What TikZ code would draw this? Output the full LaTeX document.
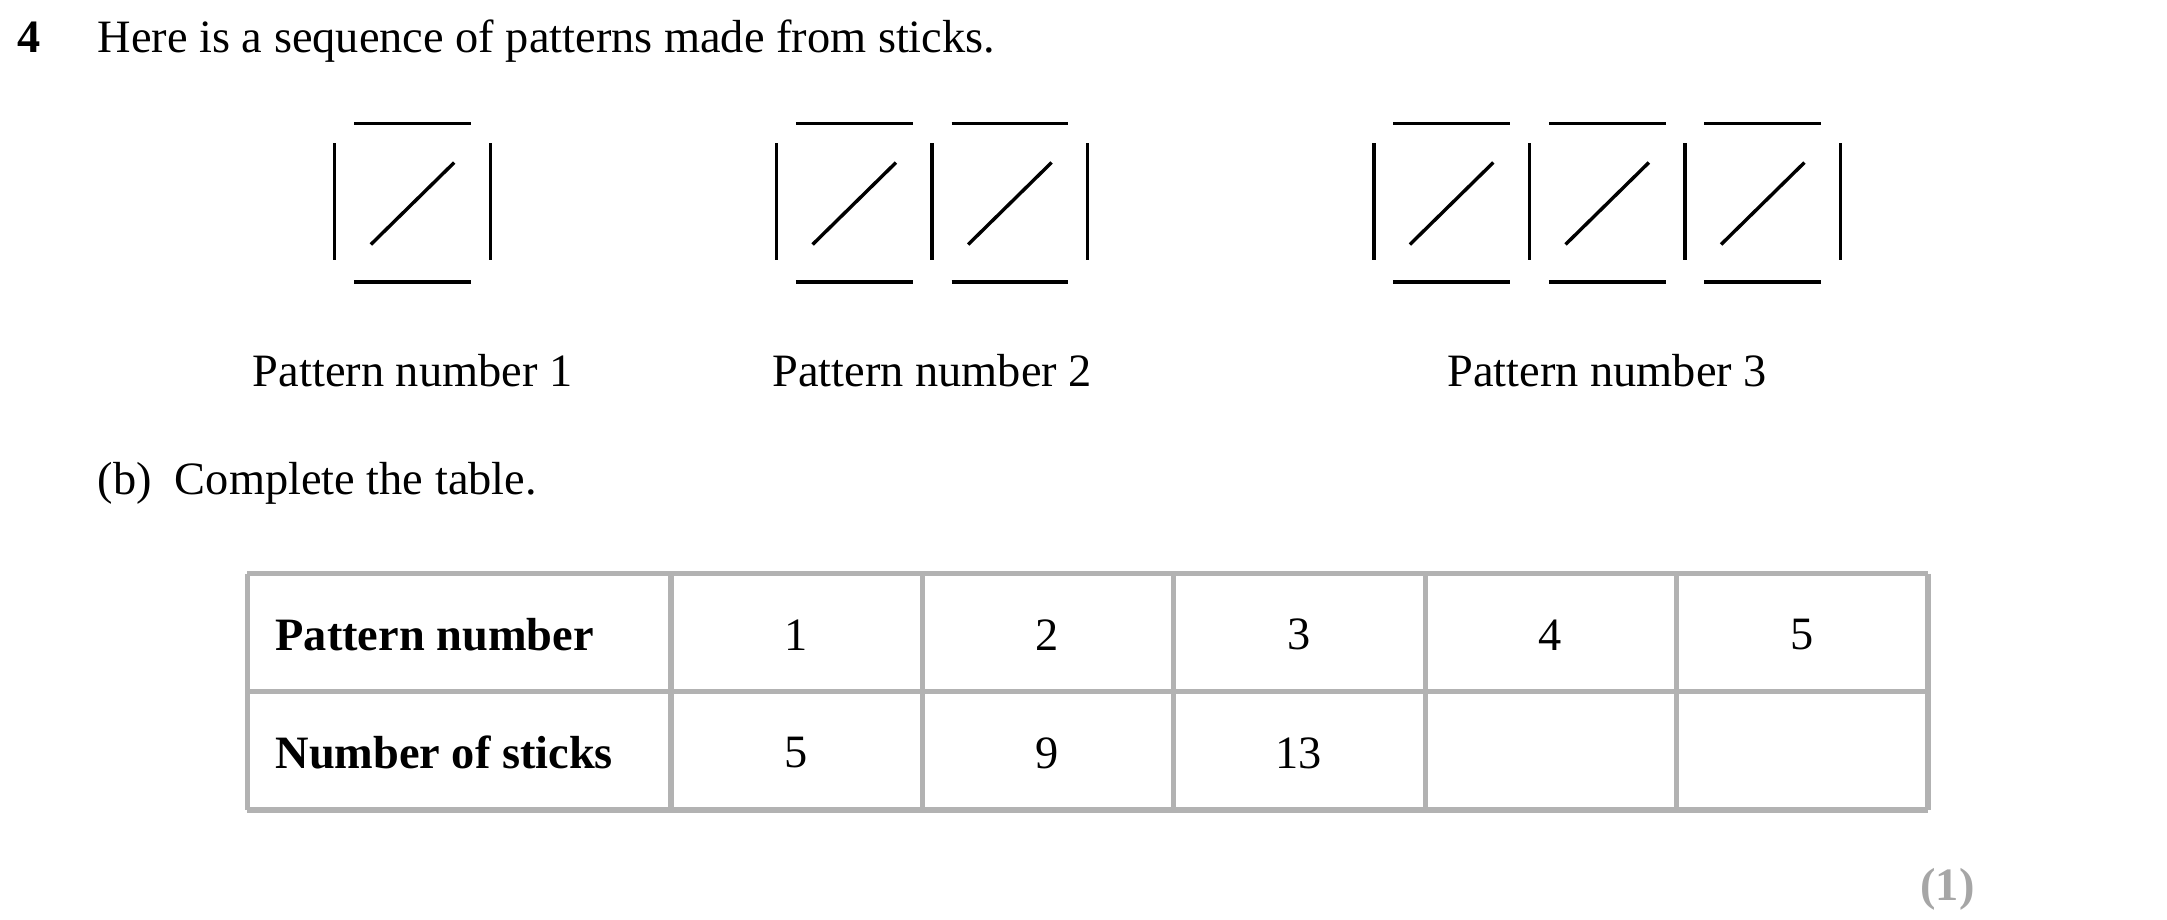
\documentclass[tikz,border=0pt]{standalone}
\usepackage{fontspec}
\setmainfont{Liberation Serif}
\begin{document}
\begin{tikzpicture}[x=0.02cm,y=-0.02cm,
  stick/.style={line width=1.4pt,black},
  grid/.style={line width=2.2pt,gray!60},
  txt/.style={font=\fontsize{19}{22}\selectfont,inner sep=0pt},
  cell/.style={font=\fontsize{19}{22}\selectfont,inner sep=0pt}]
\useasboundingbox (0,0) rectangle (1560,662);
\node[txt,anchor=base west,font=\fontsize{19}{22}\selectfont\bfseries] (q) at (12,38) {4};
\node[txt,anchor=base west] (t1) at (70,38) {Here is a sequence of patterns made from sticks.};
% patterns
\foreach \x/\n in {241/1,559/2,989/3}{
  \foreach \i in {1,...,\n}{
    \pgfmathsetmacro\a{\x+(\i-1)*112}
    \draw[stick] (\a,103) -- (\a,187);
    \draw[stick] (\a+14,89) -- (\a+98,89);
    \draw[stick] (\a+14,203) -- (\a+98,203);
    \draw[stick] (\a+26,176) -- (\a+86,117);
  }
  \pgfmathsetmacro\b{\x+\n*112}
  \draw[stick] (\b,103) -- (\b,187);
}
\node[txt] (p1) at (297,267) {Pattern number 1};
\node[txt] (p2) at (671,267) {Pattern number 2};
\node[txt] (p3) at (1157,267) {Pattern number 3};
\node[txt,anchor=base west] (b) at (70,356) {(b)\ \ Complete the table.};
% table
\foreach \x in {178,483,664,845,1026,1207,1388} \draw[grid] (\x,413) -- (\x,583);
\foreach \y in {413,498,583} \draw[grid] (178,\y) -- (1388,\y);
\node[cell,anchor=west,font=\fontsize{19}{22}\selectfont\bfseries] (h1) at (198,457) {Pattern number};
\node[cell,anchor=west,font=\fontsize{19}{22}\selectfont\bfseries] (h2) at (198,542) {Number of sticks};
\foreach \x/\v [count=\k] in {573/1,754/2,935/3,1116/4,1297/5} \node[cell] (n\k) at (\x,457) {\v};
\foreach \x/\v [count=\k] in {573/5,754/9,935/13} \node[cell] (s\k) at (\x,542) {\v};
\node[txt,font=\fontsize{19}{22}\selectfont\bfseries,text=gray!70] (m) at (1402,640) {(1)};
\end{tikzpicture}
\end{document}
